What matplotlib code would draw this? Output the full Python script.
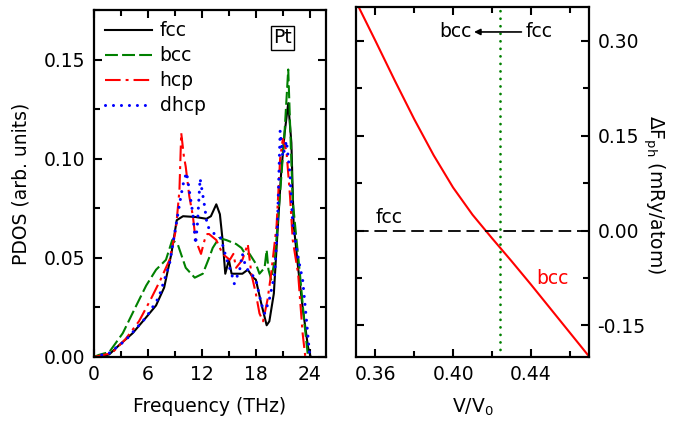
import matplotlib
matplotlib.use("Agg")
import matplotlib.pyplot as plt
from matplotlib.ticker import MultipleLocator, FormatStrFormatter

plt.rcParams['font.family'] = ['DejaVu Sans']
plt.rcParams['mathtext.fontset'] = 'dejavusans'
plt.rcParams['axes.unicode_minus'] = False

# ---------------- phonon DOS of Pt (left panel) ----------------
fcc_f = [0, 1.0, 1.7, 2.8, 4.3, 5.8, 6.9, 7.8, 8.6, 9.2, 9.9, 11.3, 12.5, 13.0,
         13.6, 14.0, 14.3, 14.6, 15.0, 15.3, 16.5, 17.1, 17.7, 18.0, 18.2, 18.6,
         19.2, 19.5, 20.0, 20.3, 20.8, 21.2, 21.6, 21.95, 22.2, 22.7, 23.2, 23.8, 24.1]
fcc_v = [0, 0.0005, 0.0013, 0.006, 0.012, 0.020, 0.026, 0.035, 0.052, 0.069, 0.071,
         0.0706, 0.0697, 0.071, 0.077, 0.072, 0.059, 0.042, 0.049, 0.042, 0.042,
         0.044, 0.040, 0.039, 0.035, 0.027, 0.016, 0.018, 0.032, 0.055, 0.092,
         0.113, 0.128, 0.108, 0.067, 0.045, 0.025, 0.005, 0]

bcc_f = [0, 0.5, 1.7, 3.2, 4.6, 5.8, 6.9, 8.0, 8.7, 9.3, 10.2, 11.2, 12.1, 12.8,
         13.2, 13.9, 14.7, 15.8, 16.4, 16.8, 17.3, 18.0, 18.4, 18.97, 19.2, 19.4,
         19.7, 20.1, 20.4, 20.8, 21.2, 21.6, 21.8, 22.1, 22.5, 22.9, 23.4, 23.8]
bcc_v = [0, 0.001, 0.0025, 0.012, 0.025, 0.036, 0.044, 0.049, 0.059, 0.057, 0.045,
         0.040, 0.042, 0.050, 0.055, 0.060, 0.059, 0.057, 0.055, 0.052, 0.052,
         0.047, 0.042, 0.045, 0.054, 0.044, 0.039, 0.049, 0.066, 0.089, 0.114,
         0.145, 0.118, 0.079, 0.060, 0.042, 0.017, 0]

hcp_f = [0, 2.0, 3.5, 5.0, 6.3, 7.4, 8.4, 9.1, 9.5, 9.7, 10.0, 10.2, 10.6, 11.0,
         11.3, 11.9, 12.3, 12.6, 12.8, 13.6, 14.3, 15.1, 15.5, 15.8, 16.5, 17.1,
         17.5, 18.0, 18.4, 18.8, 19.3, 19.7, 20.3, 20.7, 21.0, 21.4, 21.8, 22.1,
         22.7, 23.2, 23.5]
hcp_v = [0, 0.002, 0.009, 0.018, 0.029, 0.039, 0.049, 0.064, 0.084, 0.113, 0.101,
         0.096, 0.081, 0.071, 0.059, 0.052, 0.059, 0.062, 0.062, 0.059, 0.052,
         0.049, 0.052, 0.045, 0.049, 0.057, 0.042, 0.032, 0.022, 0.018, 0.029,
         0.042, 0.066, 0.100, 0.110, 0.104, 0.081, 0.059, 0.042, 0.012, 0]

dhcp_f = [0, 1.7, 3.5, 5.8, 7.2, 8.4, 9.1, 9.7, 10.0, 10.3, 10.6, 11.0, 11.3, 11.5,
          11.8, 12.3, 12.6, 13.4, 14.1, 14.7, 15.3, 15.6, 16.2, 16.5, 16.9, 17.5,
          18.0, 18.6, 18.97, 19.5, 20.1, 20.4, 20.7, 21.0, 21.4, 21.8, 22.1, 22.7,
          23.2, 23.6, 24.0]
dhcp_v = [0, 0.002, 0.0084, 0.020, 0.030, 0.047, 0.066, 0.082, 0.089, 0.093, 0.084,
          0.072, 0.057, 0.067, 0.090, 0.076, 0.066, 0.062, 0.060, 0.050, 0.042,
          0.037, 0.044, 0.052, 0.045, 0.042, 0.039, 0.027, 0.022, 0.029, 0.042,
          0.066, 0.114, 0.101, 0.109, 0.092, 0.067, 0.050, 0.039, 0.020, 0]

# ---------------- phonon free-energy difference (right panel) ----------------
vol_ratio = [0.35, 0.36, 0.37, 0.38, 0.39, 0.40, 0.41, 0.42, 0.43, 0.44, 0.45,
             0.46, 0.47]
dF_bcc = [0.362, 0.300, 0.237, 0.176, 0.119, 0.068, 0.025, -0.012, -0.048,
          -0.085, -0.123, -0.161, -0.199]
dF_fcc = 0.0
v_transition = 0.4244

FS = 13.5
GREEN = '#008000'

fig = plt.figure(figsize=(6.81, 4.28), dpi=100)
ax1 = fig.add_axes([94 / 681, 1 - 357 / 428, 232 / 681, 347 / 428])
ax2 = fig.add_axes([356 / 681, 1 - 357 / 428, 233 / 681, 349.7 / 428])

ax1.plot(fcc_f, fcc_v, color='black', lw=1.5, label='fcc')
ax1.plot(bcc_f, bcc_v, color=GREEN, lw=1.5, ls=(0, (6.2, 2.0)), label='bcc')
ax1.plot(hcp_f, hcp_v, color='red', lw=1.5, ls=(0, (7.5, 2.4, 1.4, 2.4)), label='hcp')
ax1.plot(dhcp_f, dhcp_v, color='blue', lw=2.2, ls=(0, (0.01, 2.6)),
         dash_capstyle='round', label='dhcp')

ax1.set_xlim(0, 25.8)
ax1.set_ylim(0, 0.175)
ax1.xaxis.set_major_locator(MultipleLocator(6))
ax1.xaxis.set_minor_locator(MultipleLocator(3))
ax1.yaxis.set_major_locator(MultipleLocator(0.05))
ax1.yaxis.set_minor_locator(MultipleLocator(0.025))
ax1.yaxis.set_major_formatter(FormatStrFormatter('%.2f'))
ax1.set_xlabel('Frequency (THz)', fontsize=FS, labelpad=9)
ax1.set_ylabel('PDOS (arb. units)', fontsize=FS, labelpad=10)

leg = ax1.legend(loc='upper left', frameon=False, fontsize=FS, handlelength=2.5,
                 handletextpad=0.4, labelspacing=0.32, borderaxespad=0.25,
                 borderpad=0.35)

ax1.text(21.0, 0.161, 'Pt', ha='center', va='center', fontsize=FS,
         bbox=dict(boxstyle='square,pad=0.12', fc='white', ec='black', lw=1))

ax2.plot(vol_ratio, dF_bcc, color='red', lw=1.5)
ax2.axhline(dF_fcc, color='black', lw=1.3, ls=(0, (7, 3.2)))
ax2.axvline(v_transition, color=GREEN, lw=2.0, ls=(0, (0.01, 2.7)),
            dash_capstyle='round')

ax2.set_xlim(0.35, 0.47)
ax2.set_ylim(-0.2, 0.353)
ax2.xaxis.set_major_locator(MultipleLocator(0.04))
ax2.xaxis.set_minor_locator(MultipleLocator(0.02))
ax2.yaxis.set_major_locator(MultipleLocator(0.15))
ax2.yaxis.set_minor_locator(MultipleLocator(0.075))
ax2.xaxis.set_major_formatter(FormatStrFormatter('%.2f'))
ax2.yaxis.set_major_formatter(FormatStrFormatter('%.2f'))

ax2.text(0.3672, 0.021, 'fcc', color='black', ha='center', va='center', fontsize=FS)
ax2.text(0.4514, -0.0765, 'bcc', color='red', ha='center', va='center', fontsize=FS)
ax2.text(0.4014, 0.314, 'bcc', color='black', ha='center', va='center', fontsize=FS)
ax2.text(0.4443, 0.314, 'fcc', color='black', ha='center', va='center', fontsize=FS)
ax2.annotate('', xy=(0.4108, 0.314), xytext=(0.4352, 0.314),
             arrowprops=dict(arrowstyle='-|>', color='black', lw=1.2,
                             mutation_scale=9, shrinkA=0, shrinkB=0))

ax2.set_xlabel(r'V/V$_0$', fontsize=FS, labelpad=9)
ax2.yaxis.set_label_position('right')
ax2.set_ylabel(r'$\Delta$F$_{\rm ph}$ (mRy/atom)', fontsize=FS, rotation=270)
ax2.yaxis.label.set_verticalalignment('center')
ax2.yaxis.set_label_coords(1.28, 0.463)

for ax in (ax1, ax2):
    for sp in ax.spines.values():
        sp.set_linewidth(1.6)
    ax.tick_params(which='both', direction='in', top=True, right=True, left=True,
                   bottom=True, labelsize=FS, width=1.5)
    ax.tick_params(which='major', length=6, pad=6)
    ax.tick_params(which='minor', length=4)

ax2.tick_params(labelleft=False, labelright=True)

fig.savefig('out.png', dpi=100)
